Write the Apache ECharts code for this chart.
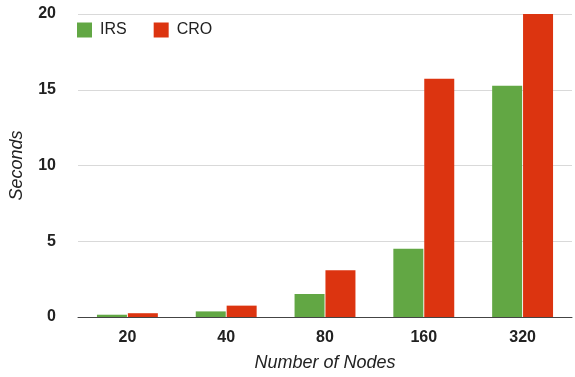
<!DOCTYPE html>
<html>
<head>
<meta charset="utf-8">
<script src="https://cdn.jsdelivr.net/npm/echarts@6/dist/echarts.min.js"></script>
<style>
  html, body { margin: 0; padding: 0; background: #fff; }
  #chart { width: 575px; height: 377px; }
</style>
</head>
<body>
<div id="chart"></div>
<script>
// Run time (seconds) by network size
const nodeCounts = ['20', '40', '80', '160', '320'];
const irsSeconds = [0.15, 0.37, 1.52, 4.5, 15.27];
const croSeconds = [0.25, 0.75, 3.08, 15.72, 20];
const yTicks = [0, 5, 10, 15, 20];

const FONT = '"Liberation Sans", Arial, sans-serif';

const chart = echarts.init(document.getElementById('chart'), null, { renderer: 'canvas' });

chart.setOption({
  animation: false,
  textStyle: { fontFamily: FONT },
  grid: { left: 77, right: 3, top: 14, bottom: 58, containLabel: false },
  legend: {
    left: 77, top: 22, padding: 0,
    itemWidth: 15, itemHeight: 15, itemGap: 27,
    icon: 'rect',
    textStyle: { fontFamily: FONT, fontSize: 16, color: '#222', padding: [0, 0, 0, 3] },
    data: ['IRS', 'CRO']
  },
  xAxis: {
    type: 'category',
    data: nodeCounts,
    name: 'Number of Nodes',
    nameLocation: 'middle',
    nameGap: 37,
    nameTextStyle: { fontFamily: FONT, fontSize: 18, fontStyle: 'italic', color: '#222' },
    axisLine: { lineStyle: { color: '#444', width: 1 } },
    axisTick: { show: false },
    axisLabel: { fontFamily: FONT, fontSize: 16, fontWeight: 'bold', color: '#222', margin: 13 }
  },
  yAxis: {
    type: 'value',
    min: yTicks[0],
    max: yTicks[yTicks.length - 1],
    interval: 5,
    name: 'Seconds',
    nameLocation: 'middle',
    nameGap: 52,
    nameRotate: 90,
    nameTextStyle: { fontFamily: FONT, fontSize: 18, fontStyle: 'italic', color: '#222' },
    axisLine: { show: false },
    axisTick: { show: false },
    axisLabel: { fontFamily: FONT, fontSize: 16, fontWeight: 'bold', color: '#222', margin: 22 },
    splitLine: { lineStyle: { color: '#d9d9d9', width: 1 } }
  },
  series: [
    {
      name: 'IRS', type: 'bar', data: irsSeconds,
      barWidth: 30, barGap: '3%',
      itemStyle: { color: '#62a744' }
    },
    {
      name: 'CRO', type: 'bar', data: croSeconds,
      barWidth: 30, barGap: '3%',
      itemStyle: { color: '#dc3410' }
    }
  ]
});
</script>
</body>
</html>
